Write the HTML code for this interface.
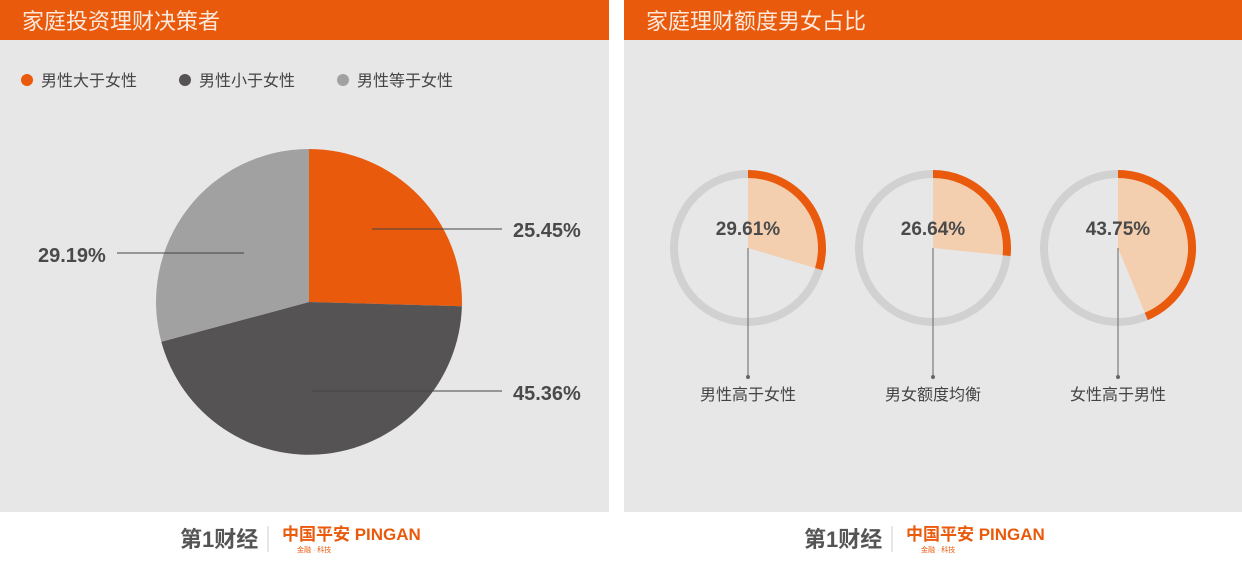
<!DOCTYPE html>
<html><head><meta charset="utf-8"><style>
body{margin:0;width:1242px;height:568px;background:#fff;overflow:hidden;font-family:"Liberation Sans","Noto Sans CJK SC",sans-serif}
</style></head><body>
<svg width="1242" height="568" xmlns="http://www.w3.org/2000/svg" font-family="Liberation Sans, Noto Sans CJK SC, sans-serif">
<rect x="0" y="0" width="609" height="512" fill="#e8e7e8"/>
<rect x="624" y="0" width="618" height="512" fill="#e8e7e8"/>
<rect x="0" y="0" width="609" height="40" fill="#e95a0c"/>
<rect x="624" y="0" width="618" height="40" fill="#e95a0c"/>
<text x="22" y="29" font-size="22" fill="#fbe9dc">家庭投资理财决策者</text>
<text x="646" y="29" font-size="22" fill="#fbe9dc">家庭理财额度男女占比</text>
<circle cx="27" cy="80" r="6" fill="#e95a0c"/><text x="41" y="86" font-size="16" fill="#444">男性大于女性</text>
<circle cx="185" cy="80" r="6" fill="#555354"/><text x="199" y="86" font-size="16" fill="#444">男性小于女性</text>
<circle cx="343" cy="80" r="6" fill="#a2a1a2"/><text x="357" y="86" font-size="16" fill="#444">男性等于女性</text>
<path d="M309,302 L309,149 A153,153 0 0 1 461.9,306.3 Z" fill="#e95a0c"/>
<path d="M309,302 L461.9,306.3 A153,153 0 0 1 161.3,341.8 Z" fill="#555354"/>
<path d="M309,302 L161.3,341.8 A153,153 0 0 1 309,149 Z" fill="#a2a1a2"/>
<line x1="372" y1="229" x2="502" y2="229" stroke="#444" stroke-width="1"/>
<line x1="312" y1="391" x2="502" y2="391" stroke="#444" stroke-width="1"/>
<line x1="117" y1="253" x2="244" y2="253" stroke="#444" stroke-width="1"/>
<text x="513" y="237" font-size="20" font-weight="bold" fill="#4a4a4a">25.45%</text>
<text x="513" y="400" font-size="20" font-weight="bold" fill="#4a4a4a">45.36%</text>
<text x="38" y="262" font-size="20" font-weight="bold" fill="#4a4a4a">29.19%</text>
<g id="rings"></g>
<text x="748" y="400" font-size="16" fill="#444" text-anchor="middle">男性高于女性</text>
<text x="933" y="400" font-size="16" fill="#444" text-anchor="middle">男女额度均衡</text>
<text x="1118" y="400" font-size="16" fill="#444" text-anchor="middle">女性高于男性</text>
<g font-weight="bold">
<text x="180" y="547" font-size="22" fill="#555">第1财经</text>
<text x="282" y="540" font-size="17" fill="#e95a0c">中国平安 PINGAN</text>
<text x="804" y="547" font-size="22" fill="#555">第1财经</text>
<text x="906" y="540" font-size="17" fill="#e95a0c">中国平安 PINGAN</text>
</g>
<text x="297" y="552" font-size="7" fill="#e95a0c">金融 · 科技</text>
<text x="921" y="552" font-size="7" fill="#e95a0c">金融 · 科技</text>
<line x1="268" y1="526" x2="268" y2="552" stroke="#ccc"/>
<line x1="892" y1="526" x2="892" y2="552" stroke="#ccc"/>
</svg>
<script>
var g=document.getElementById('rings'),s='';
[[748,29.61],[933,26.64],[1118,43.75]].forEach(function(d){
var cx=d[0],cy=248,a=d[1]/100*2*Math.PI,R=74,r=70;
function p(rr){return [(cx+rr*Math.sin(a)).toFixed(1),(cy-rr*Math.cos(a)).toFixed(1)];}
var large=a>Math.PI?1:0,q=p(r),Q=p(R);
s+='<circle cx="'+cx+'" cy="'+cy+'" r="'+R+'" fill="none" stroke="#d2d1d2" stroke-width="8"/>';
s+='<path d="M'+cx+','+cy+' L'+cx+','+(cy-r)+' A'+r+','+r+' 0 '+large+' 1 '+q[0]+','+q[1]+' Z" fill="#f3cfb0"/>';
s+='<path d="M'+cx+','+(cy-R)+' A'+R+','+R+' 0 '+large+' 1 '+Q[0]+','+Q[1]+'" fill="none" stroke="#e95a0c" stroke-width="8"/>';
s+='<line x1="'+cx+'" y1="'+cy+'" x2="'+cx+'" y2="377" stroke="#666" stroke-width="1"/><circle cx="'+cx+'" cy="377" r="2" fill="#666"/>';
s+='<text x="'+cx+'" y="235" font-size="19" font-weight="bold" fill="#4a4a4a" text-anchor="middle">'+d[1].toFixed(2)+'%</text>';
});
g.innerHTML=s;
</script>
</body></html>
